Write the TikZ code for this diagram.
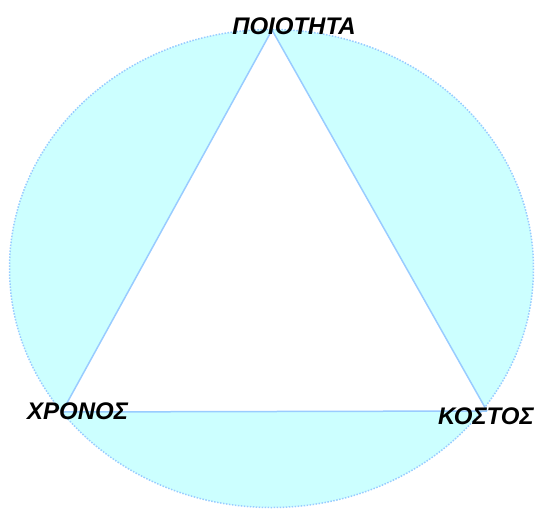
\documentclass[tikz,border=0pt]{standalone}
\usepackage{fontspec}
\setmainfont{Liberation Sans}
\definecolor{fillcyan}{HTML}{CCFFFF}
\definecolor{edgeblue}{HTML}{99CCFF}
\begin{document}
\begin{tikzpicture}[x=1pt,y=-1pt,
  lbl/.style={font=\fontsize{24}{28}\selectfont\bfseries\itshape, inner sep=0pt, text=black},
  edge/.style={draw=edgeblue, line width=1.5pt}]
\useasboundingbox (0,0) rectangle (536,509);
\fill[fillcyan] (271.5,268.5) ellipse [x radius=262, y radius=239];
\draw[edgeblue, line width=1.5pt, dash pattern=on 1.5pt off 1.5pt] (271.5,268.5) ellipse [x radius=262, y radius=239];
\coordinate (top) at (272,30);
\coordinate (left) at (62,412);
\coordinate (right) at (487,411);
\fill[white] (top) -- (left) -- (right) -- cycle;
\draw[edge] (top) -- (left);
\draw[edge] (left) -- (right);
\draw[edge] (right) -- (top);
\node[lbl] (q) at (294,26.5) {ΠΟΙΟΤΗΤΑ};
\node[lbl] (t) at (77.5,411) {ΧΡΟΝΟΣ};
\node[lbl] (c) at (486,416.5) {ΚΟΣΤΟΣ};
\end{tikzpicture}
\end{document}
